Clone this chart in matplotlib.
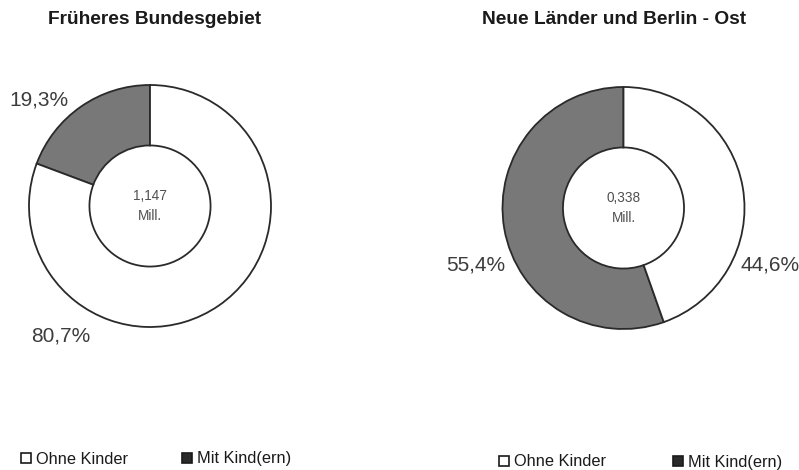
import numpy as np
import matplotlib
matplotlib.use("Agg")
import matplotlib.pyplot as plt

plt.rcParams['font.family'] = ['Liberation Sans', 'DejaVu Sans']

# data
regions = ["Früheres Bundesgebiet", "Neue Länder und Berlin - Ost"]
totals = ["1,147", "0,338"]
categories = ["Mit Kind(ern)", "Ohne Kinder"]
shares_west = [19.3, 80.7]
shares_east = [55.4, 44.6]
colors = ["#787878", "white"]

# label positions in axes data units (pie radius ~0.93)
label_pos_west = [(-0.855, 0.815), (-0.685, -1.0)]
label_pos_east = [(-1.135, -0.44), (1.127, -0.44)]

W, H = 799, 470
fig = plt.figure(figsize=(W / 100, H / 100), dpi=100)

def donut(cx, cy, shares, total, title, title_x, label_pos, leg_x, leg_y, colsp):
    size = 260
    ax = fig.add_axes([(cx - size / 2) / W, (H - cy - size / 2) / H, size / W, size / H])
    wedges, _ = ax.pie(shares, colors=colors, startangle=90, counterclock=True,
                       radius=121 / 130,
                       wedgeprops=dict(width=0.465, edgecolor="#2a2a2a", linewidth=1.3))
    ax.set_xlim(-1, 1)
    ax.set_ylim(-1, 1)
    ax.axis("off")
    ax.text(0, 0, total + "\nMill.", ha="center", va="center", fontsize=9.8,
            color="#505050", linespacing=1.6)
    for v, (x, y) in zip(shares, label_pos):
        ax.text(x, y, f"{v:.1f}%".replace(".", ","), ha="center", va="center",
                fontsize=15, color="#3c3c3c", clip_on=False)
    fig.text(title_x / W, 1 - 20 / H, title, ha="center", va="center",
             fontsize=13.8, fontweight="bold", color="#1a1a1a")
    # legend: Ohne first, then Mit
    leg = fig.legend([wedges[1], wedges[0]], [categories[1], categories[0]],
                     loc="center left", bbox_to_anchor=(leg_x / W, 1 - leg_y / H),
                     ncol=2, frameon=False, fontsize=11.8, handlelength=0.6,
                     handleheight=0.6, handletextpad=0.3, columnspacing=colsp,
                     borderpad=0, borderaxespad=0)
    for t in leg.get_texts():
        t.set_color("#1a1a1a")
    for h in leg.legend_handles:
        h.set_edgecolor("#1a1a1a")
        h.set_linewidth(1.2)
    leg.legend_handles[1].set_facecolor("#2a2a2a")

donut(150, 206, shares_west, totals[0], regions[0], 155, label_pos_west, 21, 459, 3.3)
donut(623.5, 208, shares_east, totals[1], regions[1], 614, label_pos_east, 499, 462, 4.1)

fig.savefig("out.png", dpi=100, facecolor="white")
